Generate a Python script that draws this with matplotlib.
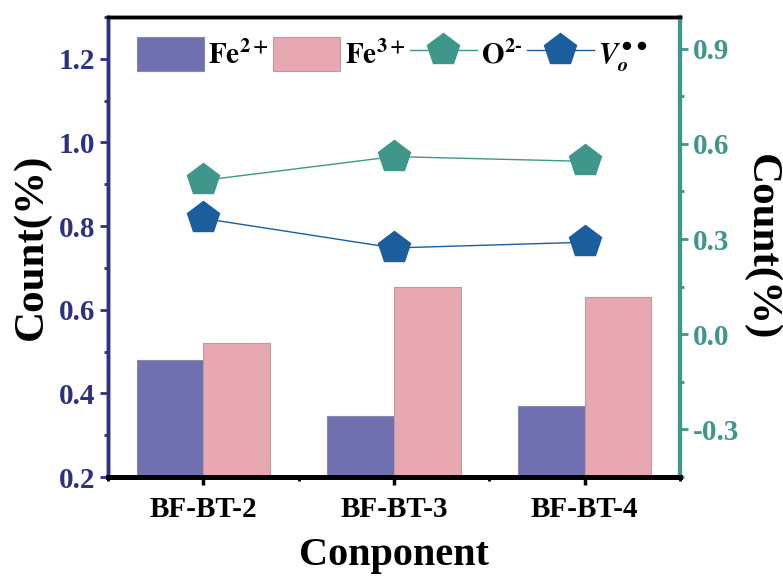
import numpy as np
from matplotlib import pyplot as plt
from matplotlib.ticker import MultipleLocator
from matplotlib.patches import Patch
from matplotlib.lines import Line2D

plt.rcParams['font.family'] = ['Liberation Serif', 'DejaVu Serif']
plt.rcParams['font.weight'] = 'bold'
plt.rcParams['mathtext.fontset'] = 'stix'

samples = ['BF-BT-2', 'BF-BT-3', 'BF-BT-4']
fe2 = [0.48, 0.345, 0.37]
fe3 = [0.52, 0.655, 0.63]
o2 = [0.485, 0.56, 0.545]
vo = [0.365, 0.272, 0.29]

navy = '#2e3180'
teal = '#3f968a'
c_fe2 = '#7070b0'
c_fe3 = '#e8a8b2'
c_vo = '#1a5e9e'

fig = plt.figure(figsize=(7.83, 5.81), dpi=100)
ax = fig.add_axes([108 / 783, 1 - 477 / 581, (680 - 108) / 783, (477 - 17) / 581])
ax2 = ax.twinx()

x = np.arange(1, len(samples) + 1)
w = 0.35
ax.bar(x - w / 2, fe2, w, color=c_fe2, edgecolor='#8a8aa8', linewidth=0.8)
ax.bar(x + w / 2, fe3, w, color=c_fe3, edgecolor='#b89aa0', linewidth=0.8)

ax2.plot(x, o2, color=teal, lw=1, marker='p', ms=24, mec=teal, zorder=3)
ax2.plot(x, vo, color=c_vo, lw=1, marker='p', ms=24, mec=c_vo, zorder=3)

ax.set_xlim(0.5, 3.5)
ax.set_ylim(0.2, 1.3)
ax2.set_ylim(-0.45, 1.0)

ax.set_xticks(x)
ax.set_xticklabels(samples)
ax.xaxis.set_minor_locator(MultipleLocator(0.5))
ax.yaxis.set_minor_locator(MultipleLocator(0.1))
ax2.yaxis.set_minor_locator(MultipleLocator(0.15))
ax.set_yticks([0.2, 0.4, 0.6, 0.8, 1.0, 1.2])
ax.set_yticklabels(['0.2', '0.4', '0.6', '0.8', '1.0', '1.2'])
ax2.set_yticks([-0.3, 0.0, 0.3, 0.6, 0.9])
ax2.set_yticklabels(['-0.3', '0.0', '0.3', '0.6', '0.9'])

ax.tick_params(axis='x', which='major', direction='out', length=6, width=2.5,
               labelsize=21, pad=8, color='black')
ax.tick_params(axis='x', which='minor', direction='out', length=3, width=2)
ax.tick_params(axis='y', which='major', direction='out', length=6, width=2,
               labelsize=21, colors=navy, pad=3)
ax.tick_params(axis='y', which='minor', direction='out', length=3, width=2, colors=navy)
ax2.tick_params(axis='y', which='major', direction='out', length=6, width=2,
                labelsize=21, colors=teal, pad=3)
ax2.tick_params(axis='y', which='minor', direction='out', length=3, width=2, colors=teal)

for a in (ax, ax2):
    a.spines['top'].set_linewidth(2.5)
    a.spines['top'].set_color('black')
    a.spines['bottom'].set_linewidth(3.5)
    a.spines['bottom'].set_color('black')
    a.spines['left'].set_linewidth(2.5)
    a.spines['left'].set_color(navy)
    a.spines['right'].set_linewidth(3)
    a.spines['right'].set_color(teal)

ax.set_xlabel('Conponent', fontsize=29, fontweight='bold', labelpad=10)
ax.set_ylabel('Count(%)', fontsize=31, fontweight='bold', labelpad=6)
ax2.set_ylabel('Count(%)', fontsize=31, fontweight='bold', rotation=270, labelpad=30)

handles = [
    Patch(facecolor=c_fe2, edgecolor='#8a8aa8', linewidth=0.8),
    Patch(facecolor=c_fe3, edgecolor='#b89aa0', linewidth=0.8),
    Line2D([], [], color=teal, lw=1, marker='p', ms=24, mec=teal),
    Line2D([], [], color=c_vo, lw=1, marker='p', ms=24, mec=c_vo),
]
labels = [r'$\mathbf{Fe^{2+}}$', r'$\mathbf{Fe^{3+}}$', r'$\mathbf{O^{2\text{-}}}$',
          r'$V_o^{\bullet\bullet}$']
ax2.legend(handles, labels, loc='upper left', bbox_to_anchor=(0.02, 0.995), ncol=4,
           frameon=False, fontsize=21, handlelength=2.3, handleheight=1.45,
           handletextpad=0.15, columnspacing=0.15, borderaxespad=0.2)

fig.savefig('out.png', dpi=100)
